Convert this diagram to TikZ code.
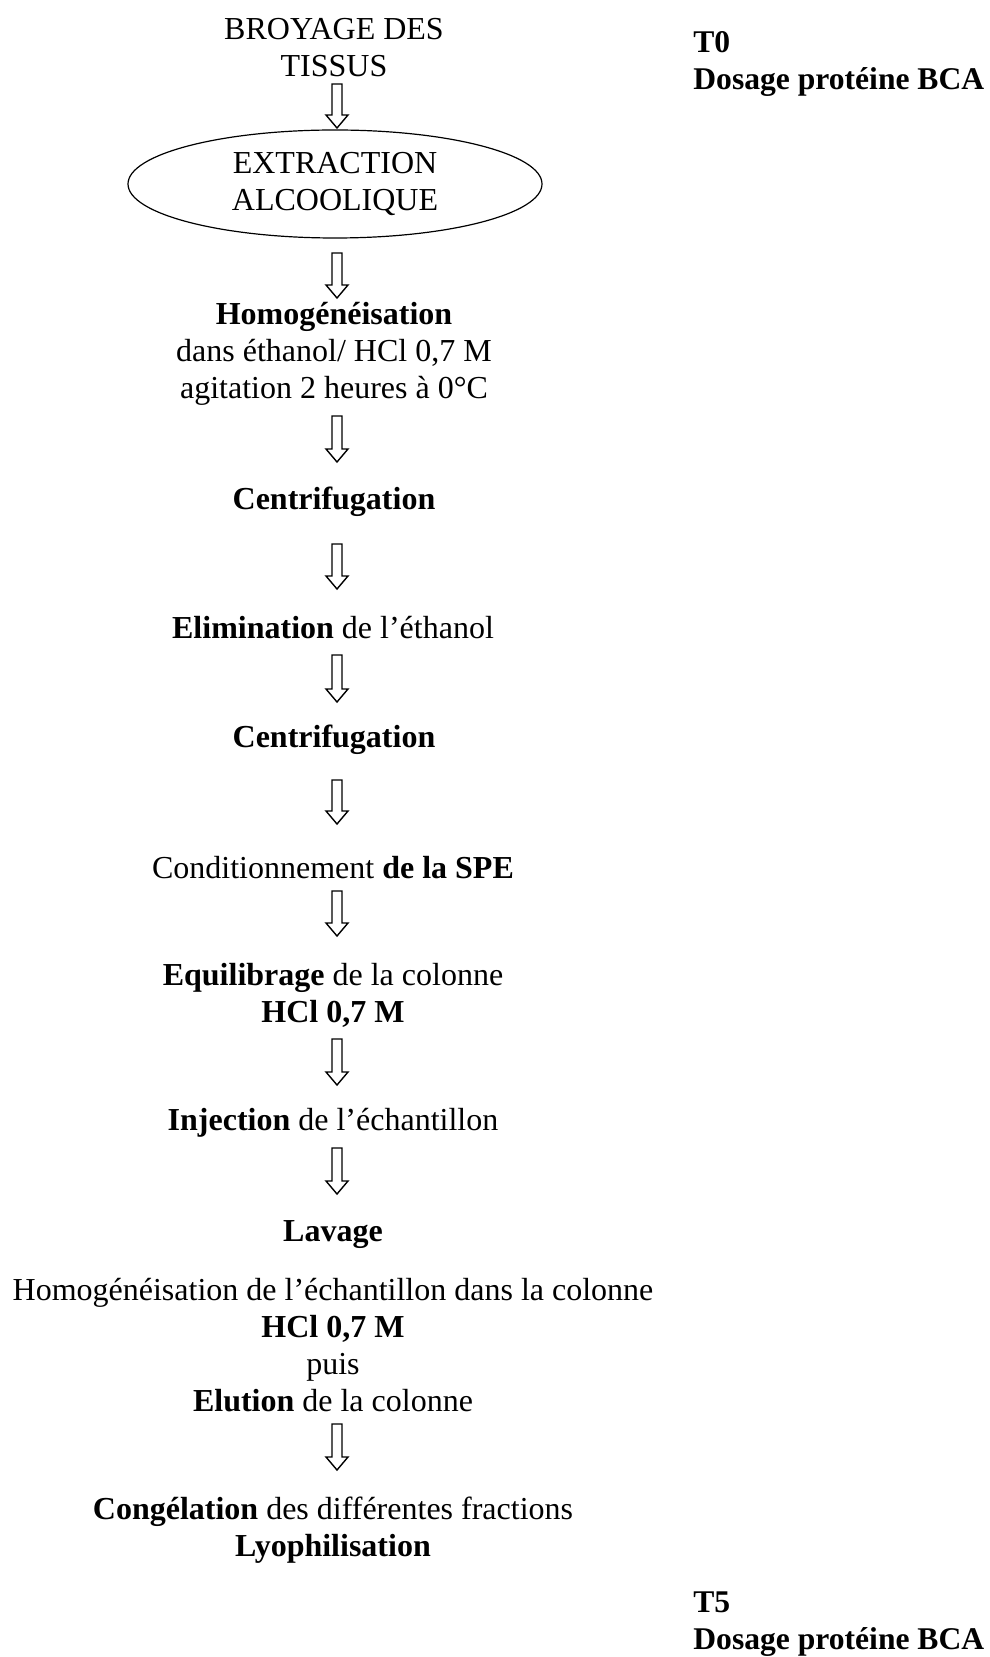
\documentclass[tikz,border=0pt]{standalone}
\usepackage{fontspec}
\setmainfont{Liberation Serif}
\usetikzlibrary{calc,shapes.geometric}
\tikzset{
  txt/.style={inner sep=0pt, align=center, font=\fontsize{16}{18.5}\selectfont},
  side/.style={inner sep=0pt, align=left, anchor=west, font=\fontsize{15.8}{18.5}\selectfont\bfseries},
  blk/.style={draw=black, line width=0.7pt, fill=white, line join=miter},
  oval/.style={draw=black, line width=0.6pt, ellipse, minimum width=207pt, minimum height=54pt, inner sep=0pt, align=center, font=\fontsize{16}{18.5}\selectfont}
}
\newcommand\blockarr[2]{%
  \draw[blk] ($(#1)+(-5,0)$) -- ($(#1)+(5,0)$) -- ($(#2)+(5,-13)$) -- ($(#2)+(11,-13)$) -- (#2) -- ($(#2)+(-11,-13)$) -- ($(#2)+(-5,-13)$) -- cycle;}
\begin{document}
\begin{tikzpicture}[x=0.5pt,y=-0.5pt]
\useasboundingbox (0,0) rectangle (989,1657);
% right column
\node[side] (t0) at (693,64) {T0\\Dosage protéine BCA};
\node[side] (t5) at (693,1624) {T5\\Dosage protéine BCA};
% main column
\node[txt] (broy) at (334,48) {BROYAGE DES\\TISSUS};
\node[oval] (ext) at (335,184) {EXTRACTION\\ALCOOLIQUE};
\node[txt] (hom) at (334,354) {\textbf{Homogénéisation}\\dans éthanol/ HCl 0,7 M\\agitation 2 heures à 0°C};
\node[txt] (c1) at (334,502) {\textbf{Centrifugation}};
\node[txt] (elim) at (333,628) {\textbf{Elimination} de l’éthanol};
\node[txt] (c2) at (334,740) {\textbf{Centrifugation}};
\node[txt] (cond) at (333,868) {Conditionnement \textbf{de la SPE}};
\node[txt] (equi) at (333,995.5) {\textbf{Equilibrage} de la colonne\\\textbf{HCl 0,7 M}};
\node[txt] (inj) at (333,1123) {\textbf{Injection} de l’échantillon};
\node[txt] (lav) at (333,1235) {\textbf{Lavage}};
\node[txt] (hom2) at (333,1345) {Homogénéisation de l’échantillon dans la colonne\\\textbf{HCl 0,7 M}\\puis\\\textbf{Elution} de la colonne};
\node[txt] (cong) at (333,1530) {\textbf{Congélation} des différentes fractions\\\textbf{Lyophilisation}};
% arrow endpoints
\coordinate (s1) at (337,84);   \coordinate (e1) at (337,128);
\coordinate (s2) at (337,253);  \coordinate (e2) at (337,298);
\coordinate (s3) at (337,416);  \coordinate (e3) at (337,462);
\coordinate (s4) at (337,544);  \coordinate (e4) at (337,589);
\coordinate (s5) at (337,655);  \coordinate (e5) at (337,702);
\coordinate (s6) at (337,780);  \coordinate (e6) at (337,824);
\coordinate (s7) at (337,891);  \coordinate (e7) at (337,936);
\coordinate (s8) at (337,1039); \coordinate (e8) at (337,1085);
\coordinate (s9) at (337,1148); \coordinate (e9) at (337,1194);
\coordinate (s10) at (337,1424); \coordinate (e10) at (337,1470);
\blockarr{s1}{e1}
\blockarr{s2}{e2}
\blockarr{s3}{e3}
\blockarr{s4}{e4}
\blockarr{s5}{e5}
\blockarr{s6}{e6}
\blockarr{s7}{e7}
\blockarr{s8}{e8}
\blockarr{s9}{e9}
\blockarr{s10}{e10}
\end{tikzpicture}
\end{document}
